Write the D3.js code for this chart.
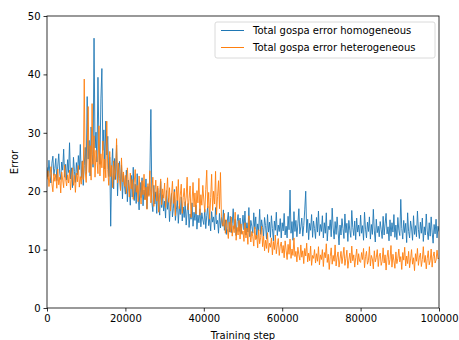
<!DOCTYPE html>
<html>
<head>
<meta charset="utf-8">
<script src="https://cdn.jsdelivr.net/npm/d3@7"></script>
<style>
  body { margin: 0; background: #fff; }
  text { font-family: 'DejaVu Sans', sans-serif; }
</style>
</head>
<body>
<div id="chart"></div>
<script>
// one value every 250 training steps, from 0 to 100000
const stepSize = 250;

const homogeneous = [
  24.1, 22.5, 25.3, 23.0, 21.4, 24.8, 26.0, 22.7, 23.9, 25.6, 21.8, 24.3, 26.4, 23.1, 22.0, 25.0, 23.6, 27.2, 22.4, 24.6,
  21.9, 25.4, 23.2, 28.3, 22.1, 24.0, 20.6, 25.8, 23.4, 21.5, 24.9, 22.8, 26.1, 23.7, 28.0, 22.3, 25.2, 21.0, 24.4, 27.5,
  23.0, 36.2, 25.5, 28.7, 22.6, 31.0, 26.3, 24.1, 46.2, 27.4, 30.1, 25.0, 39.5, 28.2, 24.6, 35.8, 41.0, 27.0, 30.5, 23.8,
  32.0, 26.2, 29.4, 22.5, 25.8, 14.0, 24.0, 27.3, 20.4, 25.6, 22.0, 27.9, 19.2, 23.8, 25.1, 20.3, 24.5, 18.7, 22.9, 21.0,
  19.5, 23.6, 18.2, 21.9, 20.4, 17.6, 22.7, 19.0, 24.1, 18.4, 21.2, 17.9, 23.0, 19.6, 16.8, 21.5, 18.9, 22.3, 17.5, 20.2,
  18.6, 22.1, 17.0, 20.8, 19.3, 23.4, 34.0, 18.1, 16.5, 21.0, 17.8, 19.9, 16.2, 20.5, 18.0, 15.9, 21.7, 17.2, 19.4, 16.6,
  18.3, 15.4, 20.1, 16.9, 18.8, 14.8, 17.7, 19.6, 15.6, 17.1, 20.3, 15.0, 16.8, 18.5, 14.5, 17.4, 16.0, 19.0, 14.9, 17.3,
  15.5, 18.2, 14.2, 16.6, 17.9, 13.8, 16.1, 15.2, 18.0, 14.0, 16.4, 15.0, 17.6, 13.5, 15.9, 14.6, 17.0, 13.9, 16.3, 15.1,
  14.3, 16.9, 13.6, 15.8, 17.4, 14.1, 15.3, 13.2, 16.5, 14.7, 15.6, 13.4, 17.2, 14.4, 15.0, 12.8, 16.2, 13.7, 15.5, 14.0,
  16.8, 13.3, 15.1, 12.6, 14.9, 16.4, 13.0, 15.7, 12.9, 14.5, 17.0, 13.6, 15.2, 12.4, 14.8, 16.0, 13.1, 15.4, 12.7, 14.2,
  15.9, 13.4, 16.6, 12.5, 14.6, 13.0, 17.2, 12.2, 15.0, 14.0, 12.8, 16.3, 13.5, 15.6, 11.9, 14.4, 13.2, 16.9, 12.6, 15.1,
  13.8, 12.3, 15.5, 14.1, 11.8, 16.0, 13.0, 14.7, 12.1, 15.8, 13.6, 11.5, 14.9, 13.3, 16.4, 12.4, 14.2, 13.1, 15.3, 12.0,
  14.6, 13.2, 16.2, 12.5, 14.0, 12.0, 15.7, 13.4, 20.2, 12.8, 14.8, 11.6, 16.5, 13.1, 15.0, 12.2, 14.4, 17.0, 12.7, 13.9,
  15.4, 12.3, 14.1, 16.8, 20.0, 12.9, 15.2, 11.7, 14.5, 13.3, 16.0, 12.1, 14.9, 13.6, 11.9, 15.5, 13.0, 16.6, 12.4, 14.3,
  13.1, 15.8, 12.0, 14.6, 12.8, 16.3, 11.5, 14.0, 13.4, 15.1, 12.2, 17.1, 13.7, 11.8, 14.8, 12.6, 15.6, 13.2, 10.8, 14.2,
  12.5, 15.3, 13.6, 11.9, 16.1, 12.9, 14.5, 11.4, 15.0, 13.3, 12.1, 16.7, 13.8, 12.4, 14.9, 11.7, 15.4, 13.0, 14.2, 12.3,
  15.9, 12.8, 14.1, 11.6, 16.4, 13.5, 12.0, 14.7, 13.1, 15.6, 11.8, 14.3, 12.6, 16.9, 13.2, 11.3, 15.2, 12.9, 14.0, 12.2,
  14.8, 13.4, 11.9, 15.7, 12.5, 14.4, 16.2, 12.7, 13.9, 11.5, 15.1, 12.3, 14.6, 13.0, 16.0, 12.1, 14.2, 11.7, 15.5, 13.3,
  12.4, 18.6, 13.6, 11.8, 15.0, 12.9, 14.5, 11.2, 16.3, 13.1, 12.0, 14.9, 13.7, 11.6, 15.8, 12.6, 14.1, 12.2, 16.6, 13.4,
  11.9, 14.7, 12.8, 15.4, 11.4, 13.9, 12.5, 16.1, 13.2, 11.7, 14.6, 12.3, 15.6, 13.0, 11.1, 14.3, 12.7, 15.2, 12.0, 14.0,
  13.1
];

const heterogeneous = [
  22.0, 23.5, 20.8, 22.6, 24.2, 21.3, 19.9, 23.0, 21.7, 22.9, 20.5, 23.8, 21.1, 22.4, 19.7, 23.3, 21.9, 20.6, 24.5, 22.1,
  20.9, 22.8, 21.4, 23.6, 20.2, 22.3, 24.0, 21.0, 22.7, 19.8, 23.1, 21.6, 24.4, 20.7, 22.5, 21.2, 25.1, 22.0, 39.2, 23.4,
  21.5, 26.0, 34.5, 23.2, 27.8, 21.9, 35.0, 24.6, 29.5, 22.4, 27.0, 25.3, 23.0, 31.2, 22.6, 26.4, 24.0, 28.6, 21.7, 25.5,
  22.3, 32.0, 23.7, 21.0, 26.8, 22.5, 24.4, 20.6, 25.2, 22.0, 23.6, 29.0, 21.4, 24.8, 22.2, 20.1, 25.7, 21.6, 23.3, 20.8,
  22.7, 19.6, 24.0, 21.2, 19.0, 23.1, 20.4, 22.0, 18.6, 21.5, 23.7, 19.8, 21.0, 18.2, 22.6, 20.0, 17.8, 21.8, 19.4, 22.9,
  18.5, 20.7, 16.9, 21.3, 19.1, 23.5, 18.0, 20.2, 22.4, 17.4, 19.6, 21.9, 18.3, 20.9, 16.4, 19.8, 22.1, 17.7, 20.4, 18.8,
  21.4, 17.2, 19.5, 22.3, 18.1, 20.6, 16.6, 19.2, 21.7, 17.9, 19.9, 15.8, 20.8, 18.4, 22.0, 17.0, 19.3, 21.2, 16.2, 18.9,
  20.5, 17.5, 19.0, 22.4, 16.8, 18.7, 20.9, 15.5, 18.2, 21.5, 17.3, 19.7, 16.1, 20.1, 18.0, 22.2, 15.9, 19.4, 17.6, 21.0,
  18.5, 16.4, 20.3, 23.6, 17.1, 19.8, 15.2, 18.9, 22.9, 16.7, 20.0, 17.8, 23.4, 16.0, 19.1, 21.8, 17.0, 23.2, 15.6, 14.2,
  14.0, 16.2, 12.8, 15.1, 13.6, 11.9, 14.7, 13.0, 15.6, 12.3, 14.1, 12.9, 16.4, 11.6, 13.8, 12.5, 15.0, 11.8, 14.4, 12.6,
  13.2, 11.4, 14.6, 12.0, 13.7, 10.9, 15.8, 12.8, 11.3, 13.1, 12.2, 10.6, 13.9, 11.7, 12.5, 10.3, 13.4, 11.0, 12.1, 14.0,
  10.5, 12.3, 9.8, 11.6, 10.2, 12.9, 9.5, 11.1, 10.4, 12.0, 9.1, 11.4, 10.0, 12.5, 9.3, 10.8, 11.9, 9.0, 10.6, 11.3,
  9.4, 10.7, 8.6, 11.5, 9.9, 8.3, 10.9, 9.2, 11.8, 8.5, 10.1, 9.0, 12.0, 8.8, 9.7, 7.9, 10.4, 9.1, 8.2, 10.8,
  8.7, 9.8, 7.6, 10.2, 8.9, 11.1, 7.9, 9.4, 8.1, 10.6, 7.3, 9.0, 8.5, 10.0, 7.7, 9.3, 8.0, 10.5, 7.4, 9.1,
  8.3, 10.0, 7.1, 9.5, 8.6, 11.0, 7.8, 9.2, 6.6, 8.8, 10.3, 7.5, 9.0, 8.0, 10.8, 7.2, 8.7, 9.6, 7.0, 8.4,
  9.7, 7.6, 8.9, 10.4, 7.3, 8.5, 9.9, 6.8, 8.2, 9.4, 7.7, 10.6, 8.1, 9.1, 7.0, 8.6, 10.1, 7.4, 9.3, 8.0,
  7.8, 9.5, 8.3, 10.2, 6.9, 8.8, 9.7, 7.5, 8.1, 10.5, 7.2, 9.0, 8.4, 6.7, 9.8, 7.9, 8.6, 10.0, 7.1, 8.9,
  9.4, 7.3, 8.0, 10.3, 7.7, 9.1, 6.5, 8.7, 9.9, 7.4, 8.3, 10.7, 7.0, 9.2, 8.1, 6.8, 9.6, 7.6, 8.5, 10.1,
  7.9, 8.8, 6.6, 9.5, 8.2, 10.4, 7.2, 8.9, 7.6, 9.7, 6.9, 8.4, 10.0, 7.5, 8.6, 6.4, 9.3, 8.0, 10.2, 7.3,
  8.7, 9.4, 7.1, 8.3, 10.5, 7.8, 9.0, 6.7, 8.5, 9.8, 7.4, 8.1, 10.1, 7.0, 8.8, 9.6, 7.7, 8.2, 9.9, 8.4,
  8.6
];

const seriesNames = ['Total gospa error homogeneous', 'Total gospa error heterogeneous'];
const seriesColors = ['#1f77b4', '#ff7f0e'];
const xTicks = [0, 20000, 40000, 60000, 80000, 100000];
const yTicks = [0, 10, 20, 30, 40, 50];

const totalW = 459, totalH = 340;
const margin = { top: 16, right: 20, bottom: 32, left: 47 };
const width = totalW - margin.left - margin.right;
const height = totalH - margin.top - margin.bottom;

const svg = d3.select('#chart')
  .append('svg')
  .attr('width', totalW)
  .attr('height', totalH);

const g = svg.append('g')
  .attr('transform', 'translate(' + margin.left + ',' + margin.top + ')');

g.append('clipPath').attr('id', 'plot-clip')
  .append('rect').attr('width', width).attr('height', height);

const line = d3.line()
  .x((d, i) => xScale(i * stepSize))
  .y((d) => yScale(d));

const xScale = d3.scaleLinear().domain([0, 100000]).range([0, width]);
const yScale = d3.scaleLinear().domain([0, 50]).range([height, 0]);

[homogeneous, heterogeneous].forEach((values, k) => {
  g.append('path')
    .datum(values)
    .attr('clip-path', 'url(#plot-clip)')
    .attr('fill', 'none')
    .attr('stroke', seriesColors[k])
    .attr('stroke-width', 0.9)
    .attr('stroke-linejoin', 'round')
    .attr('d', line);
});

// axes
const xAxis = g.append('g')
  .attr('transform', 'translate(0,' + height + ')')
  .call(d3.axisBottom(xScale).tickValues(xTicks).tickFormat(d3.format('d')).tickSize(3.5).tickPadding(3));
const yAxis = g.append('g')
  .call(d3.axisLeft(yScale).tickValues(yTicks).tickSize(3.5).tickPadding(3));

[xAxis, yAxis].forEach((ax) => {
  ax.select('.domain').remove();
  ax.selectAll('line').attr('stroke', '#000').attr('stroke-width', 0.8);
  ax.selectAll('text').attr('fill', '#000').style('font-size', '10px').style('font-family', "'DejaVu Sans', sans-serif");
});

// frame
g.append('rect')
  .attr('width', width)
  .attr('height', height)
  .attr('fill', 'none')
  .attr('stroke', '#000')
  .attr('stroke-width', 0.8);

// axis labels
g.append('text')
  .attr('x', width / 2)
  .attr('y', height + 31)
  .attr('text-anchor', 'middle')
  .style('font-size', '10px')
  .text('Training step');

g.append('text')
  .attr('transform', 'rotate(-90)')
  .attr('x', -height / 2)
  .attr('y', -29)
  .attr('text-anchor', 'middle')
  .style('font-size', '10px')
  .text('Error');

// legend
const legend = g.append('g')
  .attr('transform', 'translate(' + (width - 224) + ',6)');

legend.append('rect')
  .attr('width', 220)
  .attr('height', 36)
  .attr('rx', 2)
  .attr('fill', '#fff')
  .attr('fill-opacity', 0.8)
  .attr('stroke', '#d0d0d0')
  .attr('stroke-width', 0.8);

seriesNames.forEach((name, i) => {
  const ly = 8.5 + i * 17;
  legend.append('line')
    .attr('x1', 6).attr('x2', 29)
    .attr('y1', ly).attr('y2', ly)
    .attr('stroke', seriesColors[i])
    .attr('stroke-width', 1);
  legend.append('text')
    .attr('x', 38)
    .attr('y', ly)
    .attr('dy', '0.35em')
    .style('font-size', '10px')
    .text(name);
});
</script>
</body>
</html>
